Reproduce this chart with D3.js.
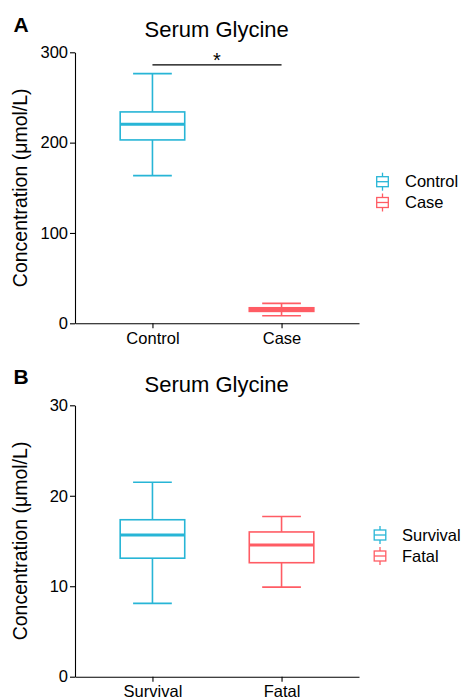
<!DOCTYPE html>
<html>
<head>
<meta charset="utf-8">
<script src="https://cdn.jsdelivr.net/npm/d3@7/dist/d3.min.js"></script>
<style>
  html, body { margin: 0; padding: 0; background: #fff; }
  svg { display: block; font-family: "Liberation Sans", Arial, Helvetica, sans-serif; }
</style>
</head>
<body>
<script>
// ---------- data ----------
const categoriesA = ["Control", "Case"];
const lowA    = [163.5, 8.4];
const q1A     = [203, 13.2];
const medianA = [220.4, 15.3];
const q3A     = [234, 17.2];
const highA   = [276.4, 22.1];
const yTicksA = [0, 100, 200, 300];
const sigA = { from: "Control", to: "Case", y: 286, label: "*" };

const categoriesB = ["Survival", "Fatal"];
const lowB    = [8.1, 9.9];
const q1B     = [13.1, 12.6];
const medianB = [15.66, 14.55];
const q3B     = [17.35, 16.0];
const highB   = [21.5, 17.7];
const yTicksB = [0, 10, 20, 30];

const colors = ["#27B5D6", "#FF5C64"];
const titleText = "Serum Glycine";
const yTitle = "Concentration (\u03bcmol/L)";

// ---------- drawing ----------
const W = 465, H = 697;
const svg = d3.select("body").append("svg").attr("width", W).attr("height", H);

function panel(opts) {
  const g = svg.append("g");
  const x = d3.scalePoint().domain(opts.categories).range([75, 359]).padding(0.6);
  const y = d3.scaleLinear().domain(opts.yDomain).range([opts.bottom, opts.top]);
  const step = x.step();
  const boxW = step * 0.5, capW = step * 0.3;

  // panel letter
  g.append("text").attr("x", 13.5).attr("y", opts.letterY)
    .attr("font-size", 21).attr("font-weight", "bold").attr("fill", "#000").text(opts.letter);
  // title
  g.append("text").attr("x", 216.7).attr("y", opts.titleY).attr("text-anchor", "middle")
    .attr("font-size", 22).attr("fill", "#000").text(titleText);

  // y axis
  const ya = g.append("g").attr("transform", "translate(75,0)")
    .call(d3.axisLeft(y).tickValues(opts.yTicks).tickSize(5).tickSizeOuter(0).tickPadding(2));
  ya.selectAll("text").attr("font-size", 16.5).attr("fill", "#000").attr("font-family", null);
  ya.selectAll("line, path").attr("stroke", "#000").attr("stroke-width", 1.1);

  // x axis
  const xa = g.append("g").attr("transform", `translate(0,${opts.bottom})`)
    .call(d3.axisBottom(x).tickSize(5).tickSizeOuter(0).tickPadding(4));
  xa.selectAll("text").attr("font-size", 16.5).attr("fill", "#000").attr("font-family", null);
  xa.selectAll("line, path").attr("stroke", "#000").attr("stroke-width", 1.1);

  // y title
  g.append("text")
    .attr("transform", `translate(26.5,${(opts.top + opts.bottom) / 2}) rotate(-90)`)
    .attr("text-anchor", "middle").attr("font-size", 19.5).attr("fill", "#000").text(yTitle);

  // boxes
  opts.categories.forEach((c, i) => {
    const cx = x(c), col = colors[i];
    const bg = g.append("g").attr("stroke", col).attr("fill", "none");
    // whiskers
    bg.append("line").attr("x1", cx).attr("x2", cx).attr("y1", y(opts.high[i])).attr("y2", y(opts.q3[i])).attr("stroke-width", 1.6);
    bg.append("line").attr("x1", cx).attr("x2", cx).attr("y1", y(opts.q1[i])).attr("y2", y(opts.low[i])).attr("stroke-width", 1.6);
    bg.append("line").attr("x1", cx - capW / 2).attr("x2", cx + capW / 2).attr("y1", y(opts.high[i])).attr("y2", y(opts.high[i])).attr("stroke-width", 1.6);
    bg.append("line").attr("x1", cx - capW / 2).attr("x2", cx + capW / 2).attr("y1", y(opts.low[i])).attr("y2", y(opts.low[i])).attr("stroke-width", 1.6);
    // box
    bg.append("rect").attr("x", cx - boxW / 2).attr("y", y(opts.q3[i]))
      .attr("width", boxW).attr("height", y(opts.q1[i]) - y(opts.q3[i])).attr("stroke-width", 1.6).attr("fill", "#fff");
    bg.append("line").attr("x1", cx - boxW / 2).attr("x2", cx + boxW / 2)
      .attr("y1", y(opts.median[i])).attr("y2", y(opts.median[i])).attr("stroke-width", 3);
  });

  // significance
  if (opts.sig) {
    const sy = y(opts.sig.y);
    g.append("line").attr("x1", x(opts.sig.from)).attr("x2", x(opts.sig.to))
      .attr("y1", sy).attr("y2", sy).attr("stroke", "#000").attr("stroke-width", 1.2);
    g.append("text").attr("x", (x(opts.sig.from) + x(opts.sig.to)) / 2).attr("y", sy + 2.5)
      .attr("text-anchor", "middle").attr("font-size", 20).attr("fill", "#000").text(opts.sig.label);
  }

  // legend
  opts.categories.forEach((c, i) => {
    const ly = opts.legendY[i], kx = opts.legendKeyX, col = colors[i];
    const lg = g.append("g").attr("stroke", col).attr("fill", "none").attr("stroke-width", 1.3);
    lg.append("line").attr("x1", kx).attr("x2", kx).attr("y1", ly - 9).attr("y2", ly + 9);
    lg.append("rect").attr("x", kx - 5.8).attr("y", ly - 5).attr("width", 11.6).attr("height", 10).attr("fill", "#fff");
    lg.append("line").attr("x1", kx - 5.8).attr("x2", kx + 5.8).attr("y1", ly).attr("y2", ly);
    g.append("text").attr("x", opts.legendTextX).attr("y", ly).attr("dy", "0.35em")
      .attr("font-size", 16.5).attr("fill", "#000").text(c);
  });
}

panel({
  letter: "A", letterY: 31.7, titleY: 37.3,
  categories: categoriesA, low: lowA, q1: q1A, median: medianA, q3: q3A, high: highA,
  yDomain: [0, 300], yTicks: yTicksA, top: 52.3, bottom: 323.3, sig: sigA,
  legendY: [181.7, 202.5], legendKeyX: 382.5, legendTextX: 405
});

panel({
  letter: "B", letterY: 384, titleY: 391.7,
  categories: categoriesB, low: lowB, q1: q1B, median: medianB, q3: q3B, high: highB,
  yDomain: [0, 30], yTicks: yTicksB, top: 405.3, bottom: 676.7, sig: null,
  legendY: [535, 556], legendKeyX: 380, legendTextX: 402
});
</script>
</body>
</html>
